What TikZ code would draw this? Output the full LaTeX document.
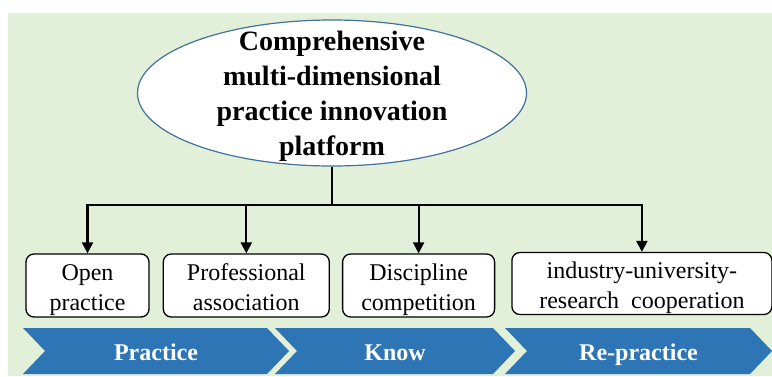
\documentclass[tikz,border=0pt]{standalone}
\usepackage{fontspec}
\setmainfont{Liberation Serif}
\usetikzlibrary{positioning,shapes,calc,arrows.meta}
\definecolor{mygreen}{RGB}{226,240,217}
\definecolor{myblue}{RGB}{46,117,182}
\definecolor{myline}{RGB}{65,113,156}

\begin{document}
\begin{tikzpicture}[x=1pt,y=-1pt,
  plat/.style={ellipse,draw=myline,line width=1.2pt,fill=white,
    minimum width=389pt,minimum height=146pt,inner sep=0pt},
  ptext/.style={align=center,font=\bfseries\fontsize{28}{35}\selectfont},
  pbox/.style={draw,rounded corners=8pt,line width=1.3pt,fill=white,
    align=center,inner sep=0pt,minimum height=63pt,
    font=\fontsize{24}{30}\selectfont,text height=55pt,text depth=6pt},
  stage/.style={fill=myblue},
  stext/.style={text=white,anchor=base,font=\bfseries\fontsize{24}{30}\selectfont},
  link/.style={line width=2.2pt},
  arr/.style={link,-{Triangle[length=11pt,width=11pt]}}]

  \useasboundingbox (0,0) rectangle (772,376);
  \fill[mygreen] (8,13) rectangle (772,376);

  % platform on top
  \node[plat] (plat) at (332,93) {};
  \node[ptext] (platlbl) at (332,96) {Comprehensive\\multi-dimensional\\practice innovation\\platform};

  % the four practice forms
  \node[pbox,minimum width=123pt] (open) at (87.5,285.5) {Open\\practice};
  \node[pbox,minimum width=166pt,right=13pt of open] (prof) {Professional\\association};
  \node[pbox,minimum width=152pt,right=12pt of prof] (disc) {Discipline\\competition};
  \node[pbox,minimum width=260pt,minimum height=62pt,right=16pt of disc,yshift=2pt] (ind)
    {industry-university-\\research~ cooperation};

  \coordinate (bus) at (332,205);
  \draw[link] (plat.south) -- (bus);
  \draw[link,line cap=rect] (open.north |- bus) -- (ind.north |- bus);
  \foreach \n in {open,prof,disc,ind}
    \draw[arr] (\n.north |- bus) -- (\n.north);

  % stages
  \foreach \a/\b/\t [count=\i] in {23/267/Practice,275/493/Know,505/750/Re-practice}{
    \fill[stage] (\a,328) -- (\b,328) -- (\b+22,351) -- (\b,374) -- (\a,374)
      -- (\a+22,351) -- cycle;
    \node[stext] (stage\i) at ({(\a+\b+22)/2},360) {\t};
  }
\end{tikzpicture}
\end{document}
